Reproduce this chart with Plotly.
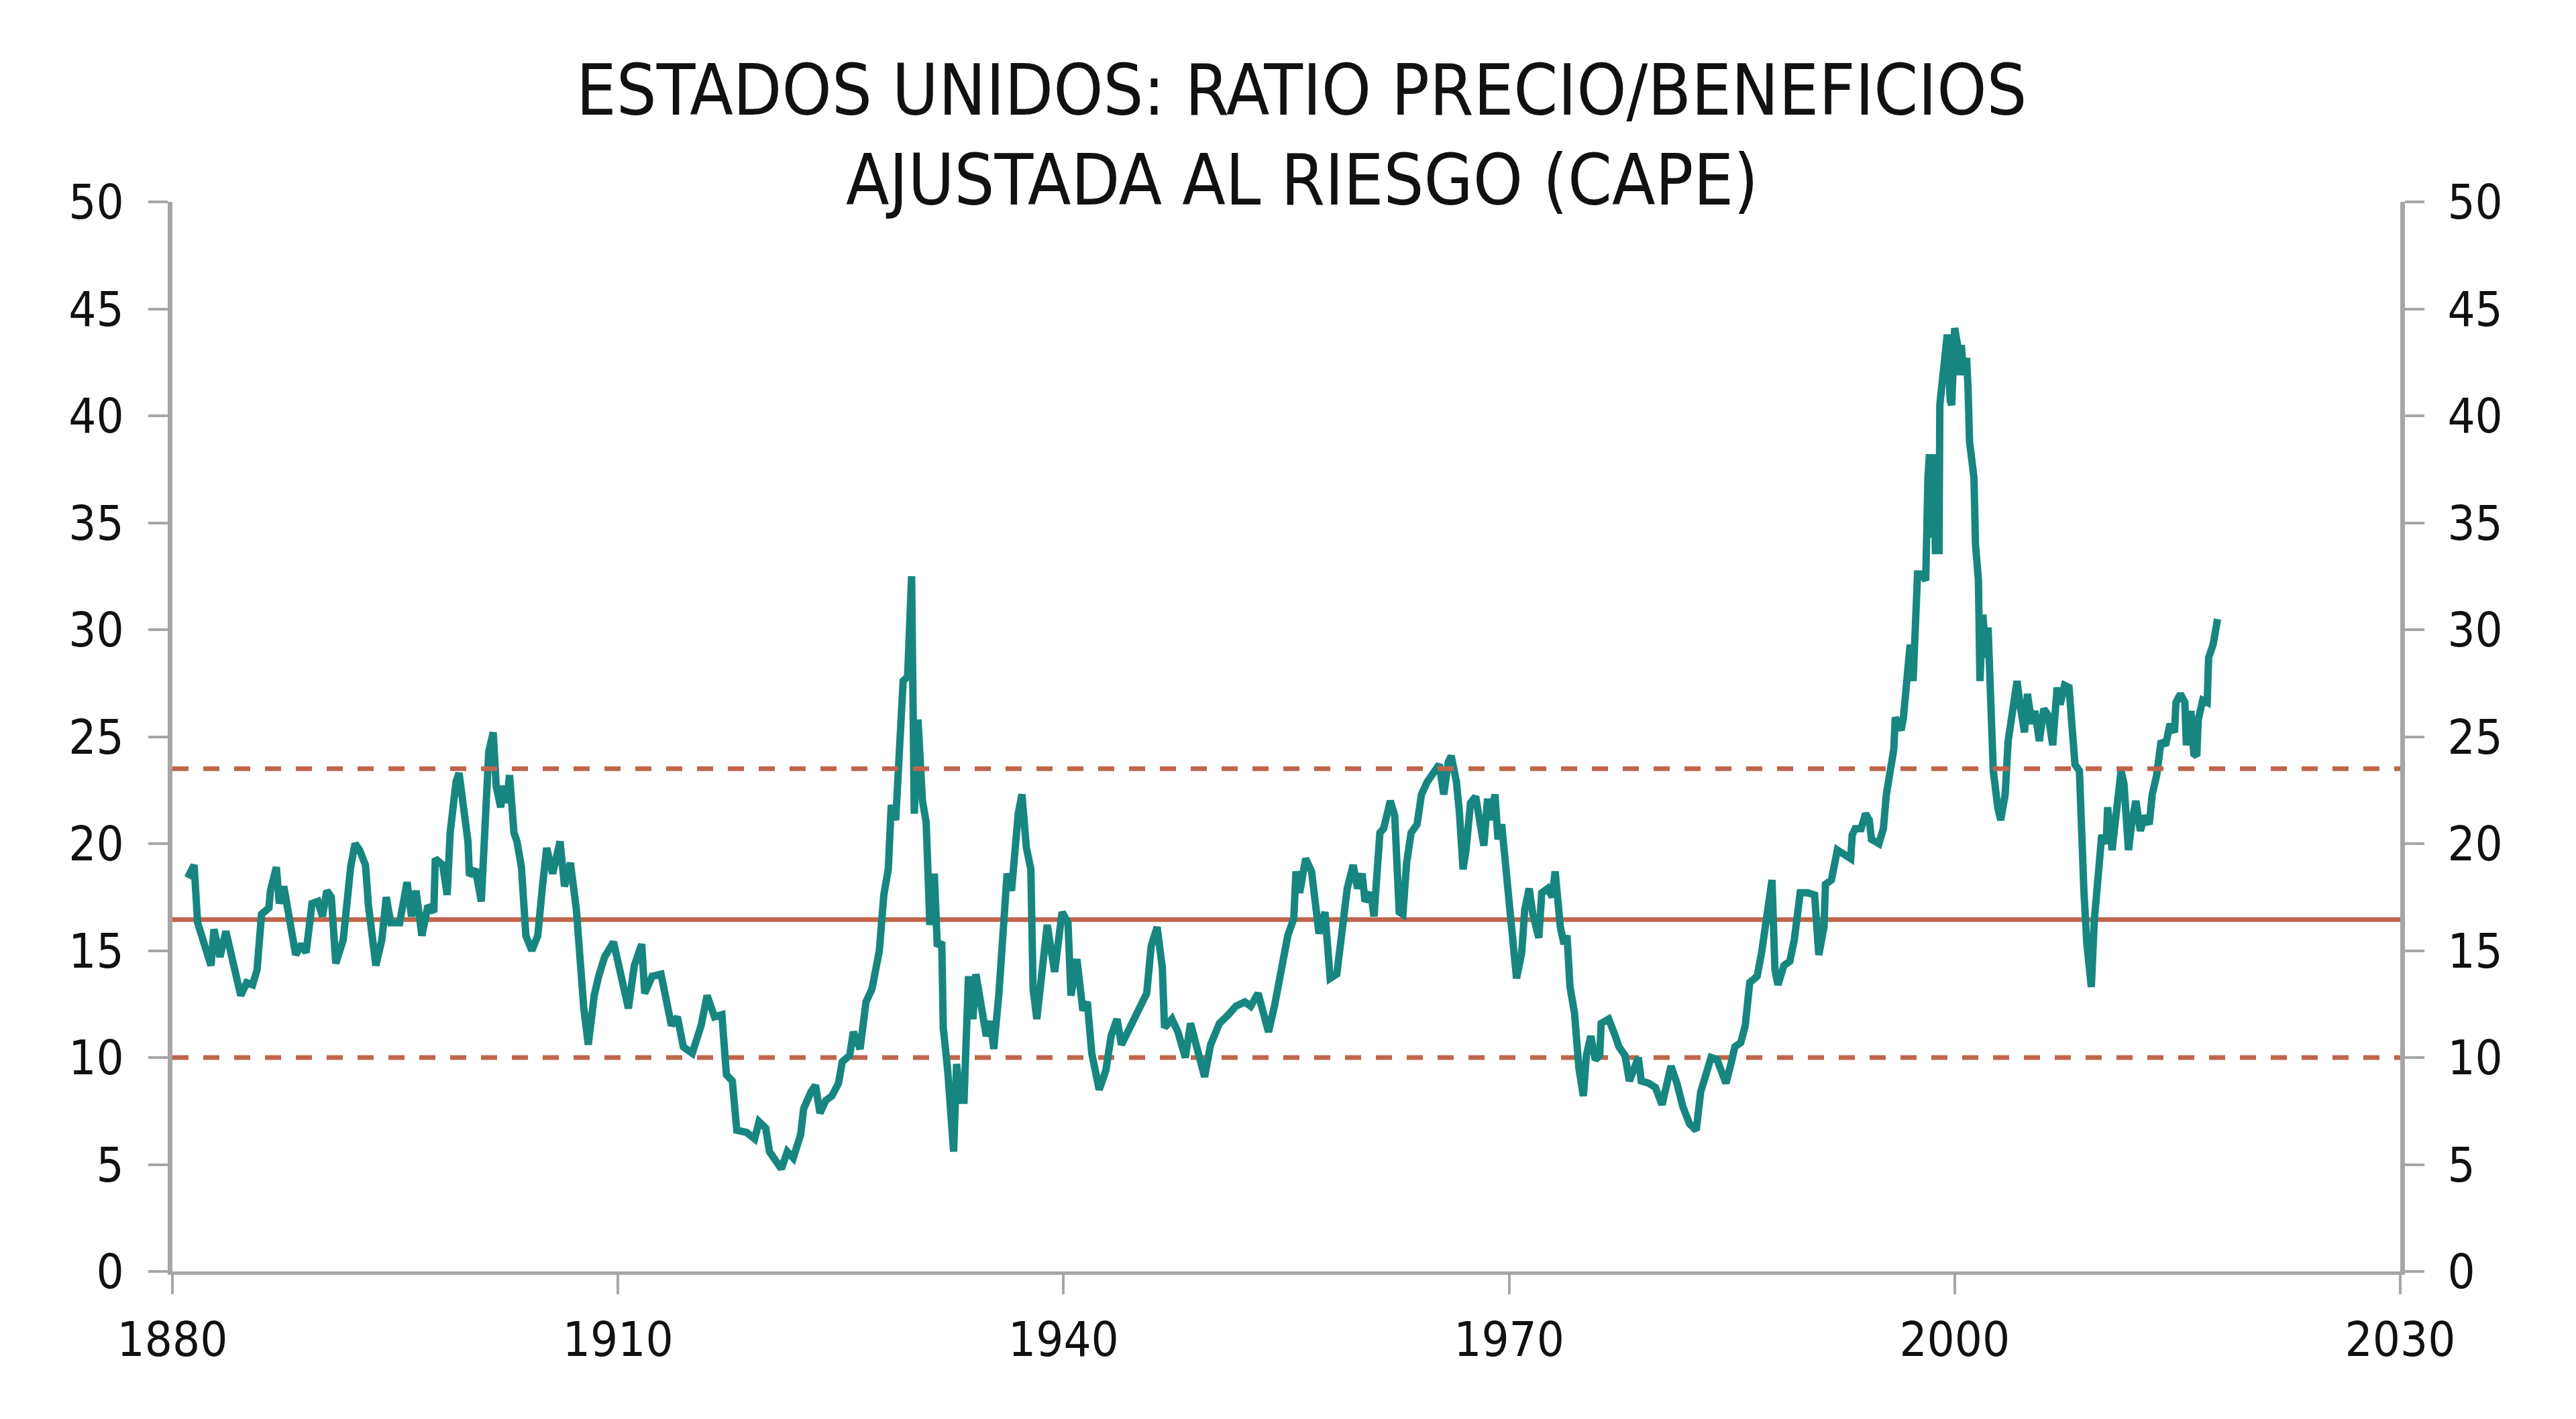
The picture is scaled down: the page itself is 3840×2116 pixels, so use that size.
import plotly.graph_objects as go

years = [
    1881.03, 1881.46, 1881.7, 1882.2, 1882.6, 1882.8, 1883.2, 1883.6, 1883.9, 1884.2,
    1884.6, 1885.0, 1885.4, 1885.7, 1886.0, 1886.5, 1886.6, 1887.0, 1887.2, 1887.5,
    1887.9, 1888.3, 1888.7, 1889.0, 1889.4, 1889.8, 1890.1, 1890.4, 1890.7, 1891.0,
    1891.5, 1891.8, 1892.0, 1892.3, 1892.6, 1893.0, 1893.2, 1893.7, 1894.1, 1894.4,
    1894.7, 1895.3, 1895.8, 1896.1, 1896.4, 1896.8, 1897.2, 1897.6, 1897.7, 1898.2,
    1898.5, 1898.7, 1899.1, 1899.3, 1899.6, 1899.9, 1900.0, 1900.4, 1900.8, 1901.1,
    1901.3, 1901.6, 1901.8, 1902.1, 1902.3, 1902.5, 1902.7, 1903.0, 1903.2, 1903.5,
    1903.8, 1904.2, 1904.6, 1904.9, 1905.2, 1905.6, 1906.1, 1906.4, 1906.8, 1907.2,
    1907.4, 1907.7, 1908.0, 1908.4, 1908.7, 1909.1, 1909.7, 1910.3, 1910.7, 1911.1,
    1911.6, 1911.8, 1912.3, 1912.9, 1913.3, 1913.6, 1914.0, 1914.4, 1915.0, 1915.6,
    1916.0, 1916.5, 1917.0, 1917.3, 1917.7, 1918.0, 1918.66, 1919.2, 1919.5, 1919.95,
    1920.2, 1920.7, 1921.0, 1921.4, 1921.8, 1922.3, 1922.5, 1923.0, 1923.3, 1923.6,
    1924.0, 1924.4, 1924.85, 1925.1, 1925.6, 1925.85, 1926.3, 1926.7, 1927.1, 1927.6,
    1927.9, 1928.2, 1928.4, 1928.7, 1928.97, 1929.2, 1929.5, 1929.77, 1929.95, 1930.2,
    1930.5, 1930.75, 1931.0, 1931.3, 1931.5, 1931.8, 1931.9, 1932.2, 1932.6, 1932.8,
    1933.05, 1933.3, 1933.6, 1933.9, 1934.1, 1934.4, 1934.8, 1935.1, 1935.3, 1935.65,
    1935.9, 1936.2, 1936.5, 1936.7, 1936.95, 1937.2, 1937.5, 1937.8, 1937.95, 1938.2,
    1938.6, 1938.9, 1939.4, 1939.9, 1940.3, 1940.5, 1940.9, 1941.3, 1941.6, 1941.9,
    1942.4, 1942.85, 1943.2, 1943.6, 1943.9, 1944.3, 1944.7, 1945.1, 1945.6, 1945.9,
    1946.3, 1946.65, 1946.8, 1947.3, 1947.7, 1948.2, 1948.55, 1949.0, 1949.5, 1949.9,
    1950.5, 1951.1, 1951.6, 1952.2, 1952.6, 1953.1, 1953.4, 1953.8, 1954.2, 1954.6,
    1955.1, 1955.5, 1955.65, 1955.9, 1956.3, 1956.7, 1956.95, 1957.2, 1957.6, 1957.95,
    1958.4, 1958.8, 1959.1, 1959.5, 1959.8, 1960.1, 1960.3, 1960.7, 1960.9, 1961.3,
    1961.55, 1962.0, 1962.3, 1962.6, 1962.85, 1963.1, 1963.4, 1963.8, 1964.1, 1964.5,
    1964.9, 1965.3, 1965.6, 1965.9, 1966.1, 1966.45, 1966.65, 1966.9, 1967.1, 1967.4,
    1967.75, 1968.0, 1968.3, 1968.55, 1968.75, 1969.05, 1969.25, 1969.5, 1969.8, 1970.1,
    1970.5, 1970.85, 1971.05, 1971.35, 1971.6, 1972.0, 1972.2, 1972.6, 1972.9, 1973.1,
    1973.45, 1973.7, 1973.9, 1974.1, 1974.4, 1974.7, 1975.0, 1975.2, 1975.5, 1975.8,
    1976.1, 1976.2, 1976.7, 1977.1, 1977.4, 1977.8, 1978.1, 1978.7, 1978.9, 1979.4,
    1979.85, 1980.3, 1980.65, 1980.9, 1981.3, 1981.7, 1982.15, 1982.6, 1982.9, 1983.3,
    1983.6, 1984.0, 1984.3, 1984.6, 1984.9, 1985.2, 1985.6, 1985.9, 1986.2, 1986.7,
    1987.0, 1987.3, 1987.7, 1987.9, 1988.1, 1988.5, 1988.9, 1989.2, 1989.6, 1990.1,
    1990.57, 1990.85, 1991.2, 1991.3, 1991.7, 1992.1, 1992.6, 1993.0, 1993.1, 1993.3,
    1993.7, 1994.0, 1994.25, 1994.4, 1994.9, 1995.2, 1995.4, 1995.6, 1995.9, 1996.0,
    1996.4, 1996.55, 1996.8, 1997.0, 1997.2, 1997.5, 1997.8, 1998.05, 1998.2, 1998.3,
    1998.4, 1998.6, 1998.7, 1998.95, 1999.0, 1999.3, 1999.5, 1999.7, 1999.8, 2000.0,
    2000.2, 2000.3, 2000.45, 2000.6, 2000.8, 2000.9, 2001.0, 2001.3, 2001.4, 2001.6,
    2001.7, 2001.9, 2002.1, 2002.25, 2002.4, 2002.6, 2002.9, 2003.1, 2003.4, 2003.6,
    2003.9, 2004.2, 2004.4, 2004.7, 2004.9, 2005.2, 2005.4, 2005.7, 2006.0, 2006.3,
    2006.6, 2006.9, 2007.1, 2007.4, 2007.7, 2007.9, 2008.1, 2008.4, 2008.5, 2008.7,
    2008.9, 2009.2, 2009.4, 2009.7, 2009.9, 2010.2, 2010.3, 2010.6, 2010.8, 2011.2,
    2011.4, 2011.7, 2011.95, 2012.2, 2012.5, 2012.8, 2013.1, 2013.3, 2013.6, 2013.9,
    2014.2, 2014.5, 2014.8, 2014.9, 2015.2, 2015.5, 2015.6, 2015.9, 2016.1, 2016.3,
    2016.4, 2016.7, 2017.0, 2017.1, 2017.4, 2017.7,
]

cape = [
    18.4, 19.0, 16.3, 15.1, 14.3, 16.0, 14.7, 15.9, 15.1, 14.3,
    12.9, 13.5, 13.4, 14.1, 16.7, 17.0, 17.8, 18.9, 17.2, 18.0,
    16.3, 14.8, 15.3, 14.9, 17.2, 17.3, 16.6, 17.8, 17.5, 14.4,
    15.5, 17.7, 18.9, 20.0, 19.7, 19.0, 17.1, 14.3, 15.5, 17.5,
    16.3, 16.3, 18.2, 16.6, 17.8, 15.7, 17.1, 16.8, 19.3, 19.0,
    17.6, 20.5, 22.9, 23.3, 21.7, 20.1, 18.5, 18.8, 17.3, 20.9,
    24.3, 25.2, 22.7, 21.7, 22.7, 21.9, 23.2, 20.5, 20.1, 18.9,
    15.7, 15.0, 15.7, 17.9, 19.8, 18.6, 20.1, 18.0, 19.1, 16.9,
    14.7, 12.3, 10.6, 12.9, 13.8, 14.7, 15.4, 13.6, 12.3, 14.3,
    15.3, 13.0, 13.8, 13.9, 12.4, 11.5, 11.9, 10.5, 10.2, 11.5,
    12.9, 11.9, 12.0, 9.2, 8.9, 6.6, 6.5, 6.2, 7.0, 6.7,
    5.6, 5.1, 4.8, 5.6, 5.3, 6.4, 7.6, 8.4, 8.7, 7.4,
    8.0, 8.2, 8.8, 9.8, 10.1, 11.2, 10.4, 12.6, 13.2, 15.0,
    17.6, 18.8, 21.8, 21.1, 25.2, 27.6, 27.8, 32.5, 21.4, 25.8,
    22.0, 21.0, 16.2, 18.6, 15.2, 15.4, 11.4, 9.4, 5.6, 9.7,
    8.0, 8.0, 13.8, 11.8, 13.9, 12.4, 11.0, 11.7, 10.4, 13.0,
    16.0, 18.6, 17.8, 19.4, 21.4, 22.3, 19.8, 18.8, 13.2, 11.8,
    14.8, 16.2, 14.0, 16.8, 16.3, 12.9, 14.6, 12.2, 12.6, 10.2,
    8.5, 9.4, 11.0, 11.8, 10.6, 11.2, 11.6, 12.4, 13.0, 15.2,
    16.1, 14.2, 11.4, 11.8, 11.2, 10.0, 11.6, 10.4, 9.1, 10.6,
    11.6, 12.0, 12.4, 12.6, 12.4, 13.0, 12.2, 11.2, 12.4, 14.1,
    15.7, 16.5, 18.7, 17.7, 19.3, 18.7, 17.3, 15.8, 16.8, 13.7,
    13.9, 16.1, 17.9, 19.0, 17.9, 18.6, 17.3, 17.7, 16.6, 20.5,
    20.7, 22.0, 21.3, 16.8, 16.7, 19.1, 20.5, 20.9, 22.3, 22.9,
    23.3, 23.7, 22.3, 23.8, 24.1, 22.9, 21.5, 18.8, 19.7, 21.9,
    22.2, 21.3, 19.9, 22.1, 21.1, 22.3, 20.2, 20.9, 18.5, 16.3,
    13.7, 14.9, 16.9, 17.9, 16.7, 15.6, 17.7, 17.9, 17.5, 18.7,
    16.1, 15.3, 15.7, 13.3, 12.1, 9.5, 8.2, 10.1, 11.0, 9.9,
    10.1, 11.6, 11.8, 11.1, 10.5, 10.1, 8.9, 10.0, 8.9, 8.8,
    8.6, 7.8, 8.9, 9.6, 8.8, 7.7, 6.9, 6.6, 8.4, 9.5,
    10.0, 9.9, 9.3, 8.8, 9.6, 10.5, 10.7, 11.5, 13.5, 13.8,
    14.9, 16.5, 18.3, 14.1, 13.4, 14.3, 14.5, 15.5, 17.7, 17.7,
    17.6, 14.8, 16.1, 18.1, 18.3, 19.7, 19.5, 19.3, 20.4, 20.7,
    20.7, 21.4, 21.1, 20.2, 20.0, 20.7, 22.3, 23.4, 24.4, 25.9,
    25.3, 25.9, 27.6, 29.3, 27.6, 32.6, 32.6, 32.3, 37.1, 38.2,
    34.3, 38.2, 33.7, 33.7, 40.5, 42.7, 43.8, 40.7, 40.5, 44.1,
    43.3, 41.9, 43.3, 41.9, 42.7, 41.3, 38.8, 37.1, 34.0, 32.3,
    27.6, 30.7, 28.7, 30.1, 27.3, 23.4, 21.7, 21.1, 22.3, 24.8,
    26.2, 27.6, 26.5, 25.2, 27.0, 25.6, 26.2, 24.8, 26.3, 26.0,
    24.6, 27.3, 26.5, 27.4, 27.3, 25.9, 23.7, 23.4, 21.1, 17.8,
    15.3, 13.3, 16.4, 18.6, 20.4, 20.0, 21.7, 19.7, 21.1, 23.4,
    22.8, 19.7, 21.1, 22.0, 20.6, 21.3, 20.9, 22.3, 23.2, 24.8,
    24.6, 25.6, 25.2, 26.6, 27.0, 26.6, 24.6, 26.2, 24.2, 24.1,
    25.8, 26.7, 26.6, 28.7, 29.3, 30.5,
]

ref_span = [1880, 2030]
mean_value = [16.45, 16.45]
upper_band = [23.5, 23.5]
lower_band = [10.0, 10.0]

x_ticks = [1880, 1910, 1940, 1970, 2000, 2030]
y_ticks = [0, 5, 10, 15, 20, 25, 30, 35, 40, 45, 50]

title_lines = ["ESTADOS UNIDOS: RATIO PRECIO/BENEFICIOS", "AJUSTADA AL RIESGO (CAPE)"]

TEAL = "#178680"
RED = "#BF654B"
GRAY = "#A6A6A6"
FONT = "Liberation Sans Narrow, DejaVu Sans Condensed, Roboto Condensed, Arial Narrow, Liberation Sans, sans-serif"

fig = go.Figure()

fig.add_trace(go.Scatter(x=ref_span, y=upper_band, mode="lines",
                         line=dict(color=RED, width=7, dash="24px,22px"), hoverinfo="skip", yaxis="y2"))
fig.add_trace(go.Scatter(x=ref_span, y=lower_band, mode="lines",
                         line=dict(color=RED, width=7, dash="24px,22px"), hoverinfo="skip"))
fig.add_trace(go.Scatter(x=ref_span, y=mean_value, mode="lines",
                         line=dict(color=RED, width=7), hoverinfo="skip"))
fig.add_trace(go.Scatter(x=years, y=cape, mode="lines",
                         line=dict(color=TEAL, width=11, shape="linear"), name="CAPE"))

def axis_style(line_w):
    return dict(
        showline=True, linecolor=GRAY, linewidth=line_w,
        ticks="outside", ticklen=29, tickwidth=4, tickcolor=GRAY,
        showgrid=False, zeroline=False,
        tickfont=dict(family=FONT, size=72, color="#111111"),
    )

fig.update_layout(
    width=3840, height=2116,
    margin=dict(l=257, r=262, t=301, b=220),
    paper_bgcolor="white", plot_bgcolor="white",
    showlegend=False,
    font=dict(family=FONT, color="#111111"),
    xaxis=dict(range=[1880, 2030], tickvals=x_ticks, ticktext=[str(v) for v in x_ticks],
               ticklabelstandoff=6, **axis_style(5)),
    yaxis=dict(range=[0, 50], tickvals=y_ticks, ticklabelstandoff=22, side="left", **axis_style(7)),
    yaxis2=dict(range=[0, 50], tickvals=y_ticks, overlaying="y", side="right",
                ticklabelstandoff=20, **axis_style(7)),
)

fig.add_annotation(text=title_lines[0], xref="paper", yref="paper", x=0.507, y=1.104,
                   xanchor="center", yanchor="middle", showarrow=False,
                   font=dict(family=FONT, size=105, color="#111111"))
fig.add_annotation(text=title_lines[1], xref="paper", yref="paper", x=0.507, y=1.020,
                   xanchor="center", yanchor="middle", showarrow=False,
                   font=dict(family=FONT, size=105, color="#111111"))

fig.write_html("out.html")
